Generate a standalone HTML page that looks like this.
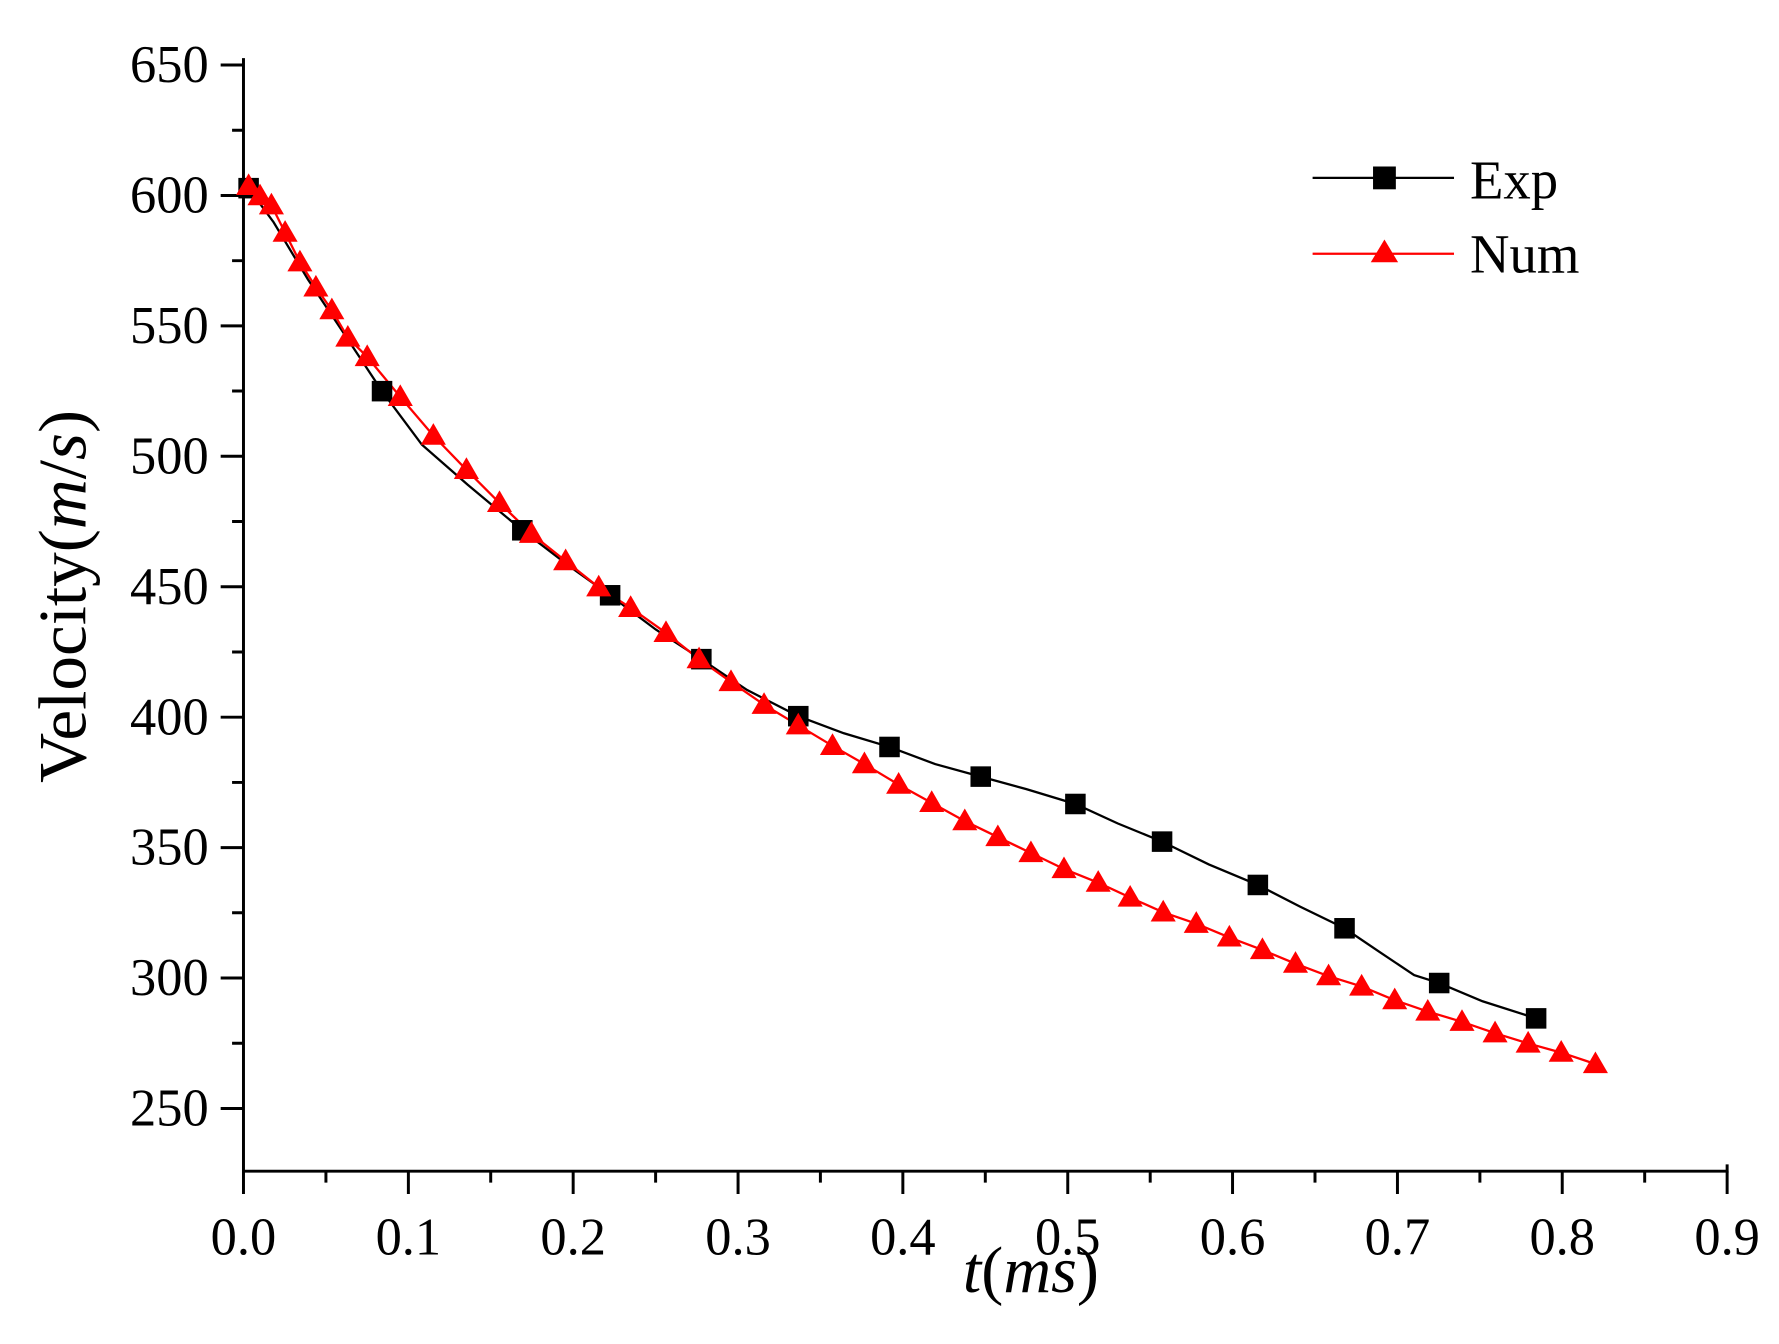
<!DOCTYPE html>
<html><head><meta charset="utf-8"><style>html,body{margin:0;padding:0;background:#fff;}svg{display:block;}</style></head>
<body>
<svg width="1779" height="1344" viewBox="0 0 1779 1344" xmlns="http://www.w3.org/2000/svg" xmlns:xlink="http://www.w3.org/1999/xlink">
<defs>
<rect id="sq" x="-9" y="-9" width="18" height="18" fill="#000"/>
<polygon id="tri" points="0,-11 11,8 -11,8" fill="#f00"/>
</defs>
<g transform="scale(1.1404)" font-family="Liberation Serif, serif" fill="#000">
<path d="M213.5,51 V1027 H1514.5 V1021" fill="none" stroke="#000" stroke-width="2.6"/>
<path stroke="#000" stroke-width="2.6" fill="none" d="
M213.5,1027v20 M285.8,1027v10 M358.1,1027v20 M430.3,1027v10 M502.6,1027v20 M574.9,1027v10 M647.2,1027v20 M719.4,1027v10 M791.7,1027v20 M864,1027v10 M936.3,1027v20 M1008.6,1027v10 M1080.8,1027v20 M1153.1,1027v10 M1225.4,1027v20 M1297.7,1027v10 M1369.9,1027v20 M1442.2,1027v10 M1514.5,1027v20
M213.5,57h-20 M213.5,114.2h-10 M213.5,171.4h-20 M213.5,228.6h-10 M213.5,285.75h-20 M213.5,342.9h-10 M213.5,400.1h-20 M213.5,457.3h-10 M213.5,514.5h-20 M213.5,571.7h-10 M213.5,628.9h-20 M213.5,686.1h-10 M213.5,743.3h-20 M213.5,800.4h-10 M213.5,857.6h-20 M213.5,914.8h-10 M213.5,972h-20"/>
<g font-size="46" text-anchor="middle">
<text x="213.5" y="1100">0.0</text><text x="358.1" y="1100">0.1</text><text x="502.6" y="1100">0.2</text><text x="647.2" y="1100">0.3</text><text x="791.7" y="1100">0.4</text><text x="936.3" y="1100">0.5</text><text x="1080.8" y="1100">0.6</text><text x="1225.4" y="1100">0.7</text><text x="1369.9" y="1100">0.8</text><text x="1514.5" y="1100">0.9</text>
</g>
<g font-size="46" text-anchor="end">
<text x="183" y="72">650</text><text x="183" y="186.4">600</text><text x="183" y="300.75">550</text><text x="183" y="415.1">500</text><text x="183" y="529.5">450</text><text x="183" y="643.9">400</text><text x="183" y="758.3">350</text><text x="183" y="872.6">300</text><text x="183" y="987">250</text>
</g>
<text x="0" y="0" font-size="59" transform="translate(75,523) rotate(-90)" text-anchor="middle" textLength="327" lengthAdjust="spacingAndGlyphs">Velocity(<tspan font-style="italic">m</tspan>/<tspan font-style="italic">s</tspan>)</text>
<text x="904" y="1133" font-size="58" text-anchor="middle"><tspan font-style="italic">t</tspan>(<tspan font-style="italic">ms</tspan>)</text>

<polyline fill="none" stroke="#000" stroke-width="2" points="218,165 240,195 270,245 300,290 335,343 370,390 410,425 458,465 500,497 535,522 575,552 615,578 655,605 700,628 740,643 780,655 820,670 860,681 900,692 943,705 980,722 1019,738 1060,758 1103,776 1140,795 1179,814 1210,835 1240,855 1262,862 1300,878 1347,893"/>
<polyline fill="none" stroke="#f00" stroke-width="2" points="218,163 228,172 238,180 250,204 263,230 277,252 291,272 305,296 322,313 351,348 380,382 409,412 438,441 466,468 496,492 525,515 553,533 584,555 613,578 641,598 670,618 700,636 730,654 758,670 788,688 817,704 846,720 875,734 904,748 933,762 963,774 991,787 1020,800 1049,810 1078,822 1107,833 1136,845 1165,856 1194,865 1223,877 1252,887 1282,896 1311,906 1340,915 1369,923 1399,933"/>

<use xlink:href="#sq" x="218" y="165"/><use xlink:href="#sq" x="335" y="343"/><use xlink:href="#sq" x="458" y="465"/><use xlink:href="#sq" x="535" y="522"/><use xlink:href="#sq" x="615" y="578"/><use xlink:href="#sq" x="700" y="628"/><use xlink:href="#sq" x="780" y="655"/><use xlink:href="#sq" x="860" y="681"/><use xlink:href="#sq" x="943" y="705"/><use xlink:href="#sq" x="1019" y="738"/><use xlink:href="#sq" x="1103" y="776"/><use xlink:href="#sq" x="1179" y="814"/><use xlink:href="#sq" x="1262" y="862"/><use xlink:href="#sq" x="1347" y="893"/>

<use xlink:href="#tri" x="218" y="163"/><use xlink:href="#tri" x="228" y="172"/><use xlink:href="#tri" x="238" y="180"/><use xlink:href="#tri" x="250" y="204"/><use xlink:href="#tri" x="263" y="230"/><use xlink:href="#tri" x="277" y="252"/><use xlink:href="#tri" x="291" y="272"/><use xlink:href="#tri" x="305" y="296"/><use xlink:href="#tri" x="322" y="313"/><use xlink:href="#tri" x="351" y="348"/><use xlink:href="#tri" x="380" y="382"/><use xlink:href="#tri" x="409" y="412"/><use xlink:href="#tri" x="438" y="441"/><use xlink:href="#tri" x="466" y="468"/><use xlink:href="#tri" x="496" y="492"/><use xlink:href="#tri" x="525" y="515"/><use xlink:href="#tri" x="553" y="533"/><use xlink:href="#tri" x="584" y="555"/><use xlink:href="#tri" x="613" y="578"/><use xlink:href="#tri" x="641" y="598"/><use xlink:href="#tri" x="670" y="618"/><use xlink:href="#tri" x="700" y="636"/><use xlink:href="#tri" x="730" y="654"/><use xlink:href="#tri" x="758" y="670"/><use xlink:href="#tri" x="788" y="688"/><use xlink:href="#tri" x="817" y="704"/><use xlink:href="#tri" x="846" y="720"/><use xlink:href="#tri" x="875" y="734"/><use xlink:href="#tri" x="904" y="748"/><use xlink:href="#tri" x="933" y="762"/><use xlink:href="#tri" x="963" y="774"/><use xlink:href="#tri" x="991" y="787"/><use xlink:href="#tri" x="1020" y="800"/><use xlink:href="#tri" x="1049" y="810"/><use xlink:href="#tri" x="1078" y="822"/><use xlink:href="#tri" x="1107" y="833"/><use xlink:href="#tri" x="1136" y="845"/><use xlink:href="#tri" x="1165" y="856"/><use xlink:href="#tri" x="1194" y="865"/><use xlink:href="#tri" x="1223" y="877"/><use xlink:href="#tri" x="1252" y="887"/><use xlink:href="#tri" x="1282" y="896"/><use xlink:href="#tri" x="1311" y="906"/><use xlink:href="#tri" x="1340" y="915"/><use xlink:href="#tri" x="1369" y="923"/><use xlink:href="#tri" x="1399" y="933"/>

<line x1="1151" y1="156" x2="1275" y2="156" stroke="#000" stroke-width="2"/>
<rect x="1204" y="146" width="20" height="20" fill="#000"/>
<text x="1289" y="174" font-size="48">Exp</text>
<line x1="1151" y1="222.5" x2="1275" y2="222.5" stroke="#f00" stroke-width="2"/>
<polygon points="1214,210 1226,230 1202,230" fill="#f00"/>
<text x="1289" y="239" font-size="48">Num</text>
</g>
</svg>
</body></html>
